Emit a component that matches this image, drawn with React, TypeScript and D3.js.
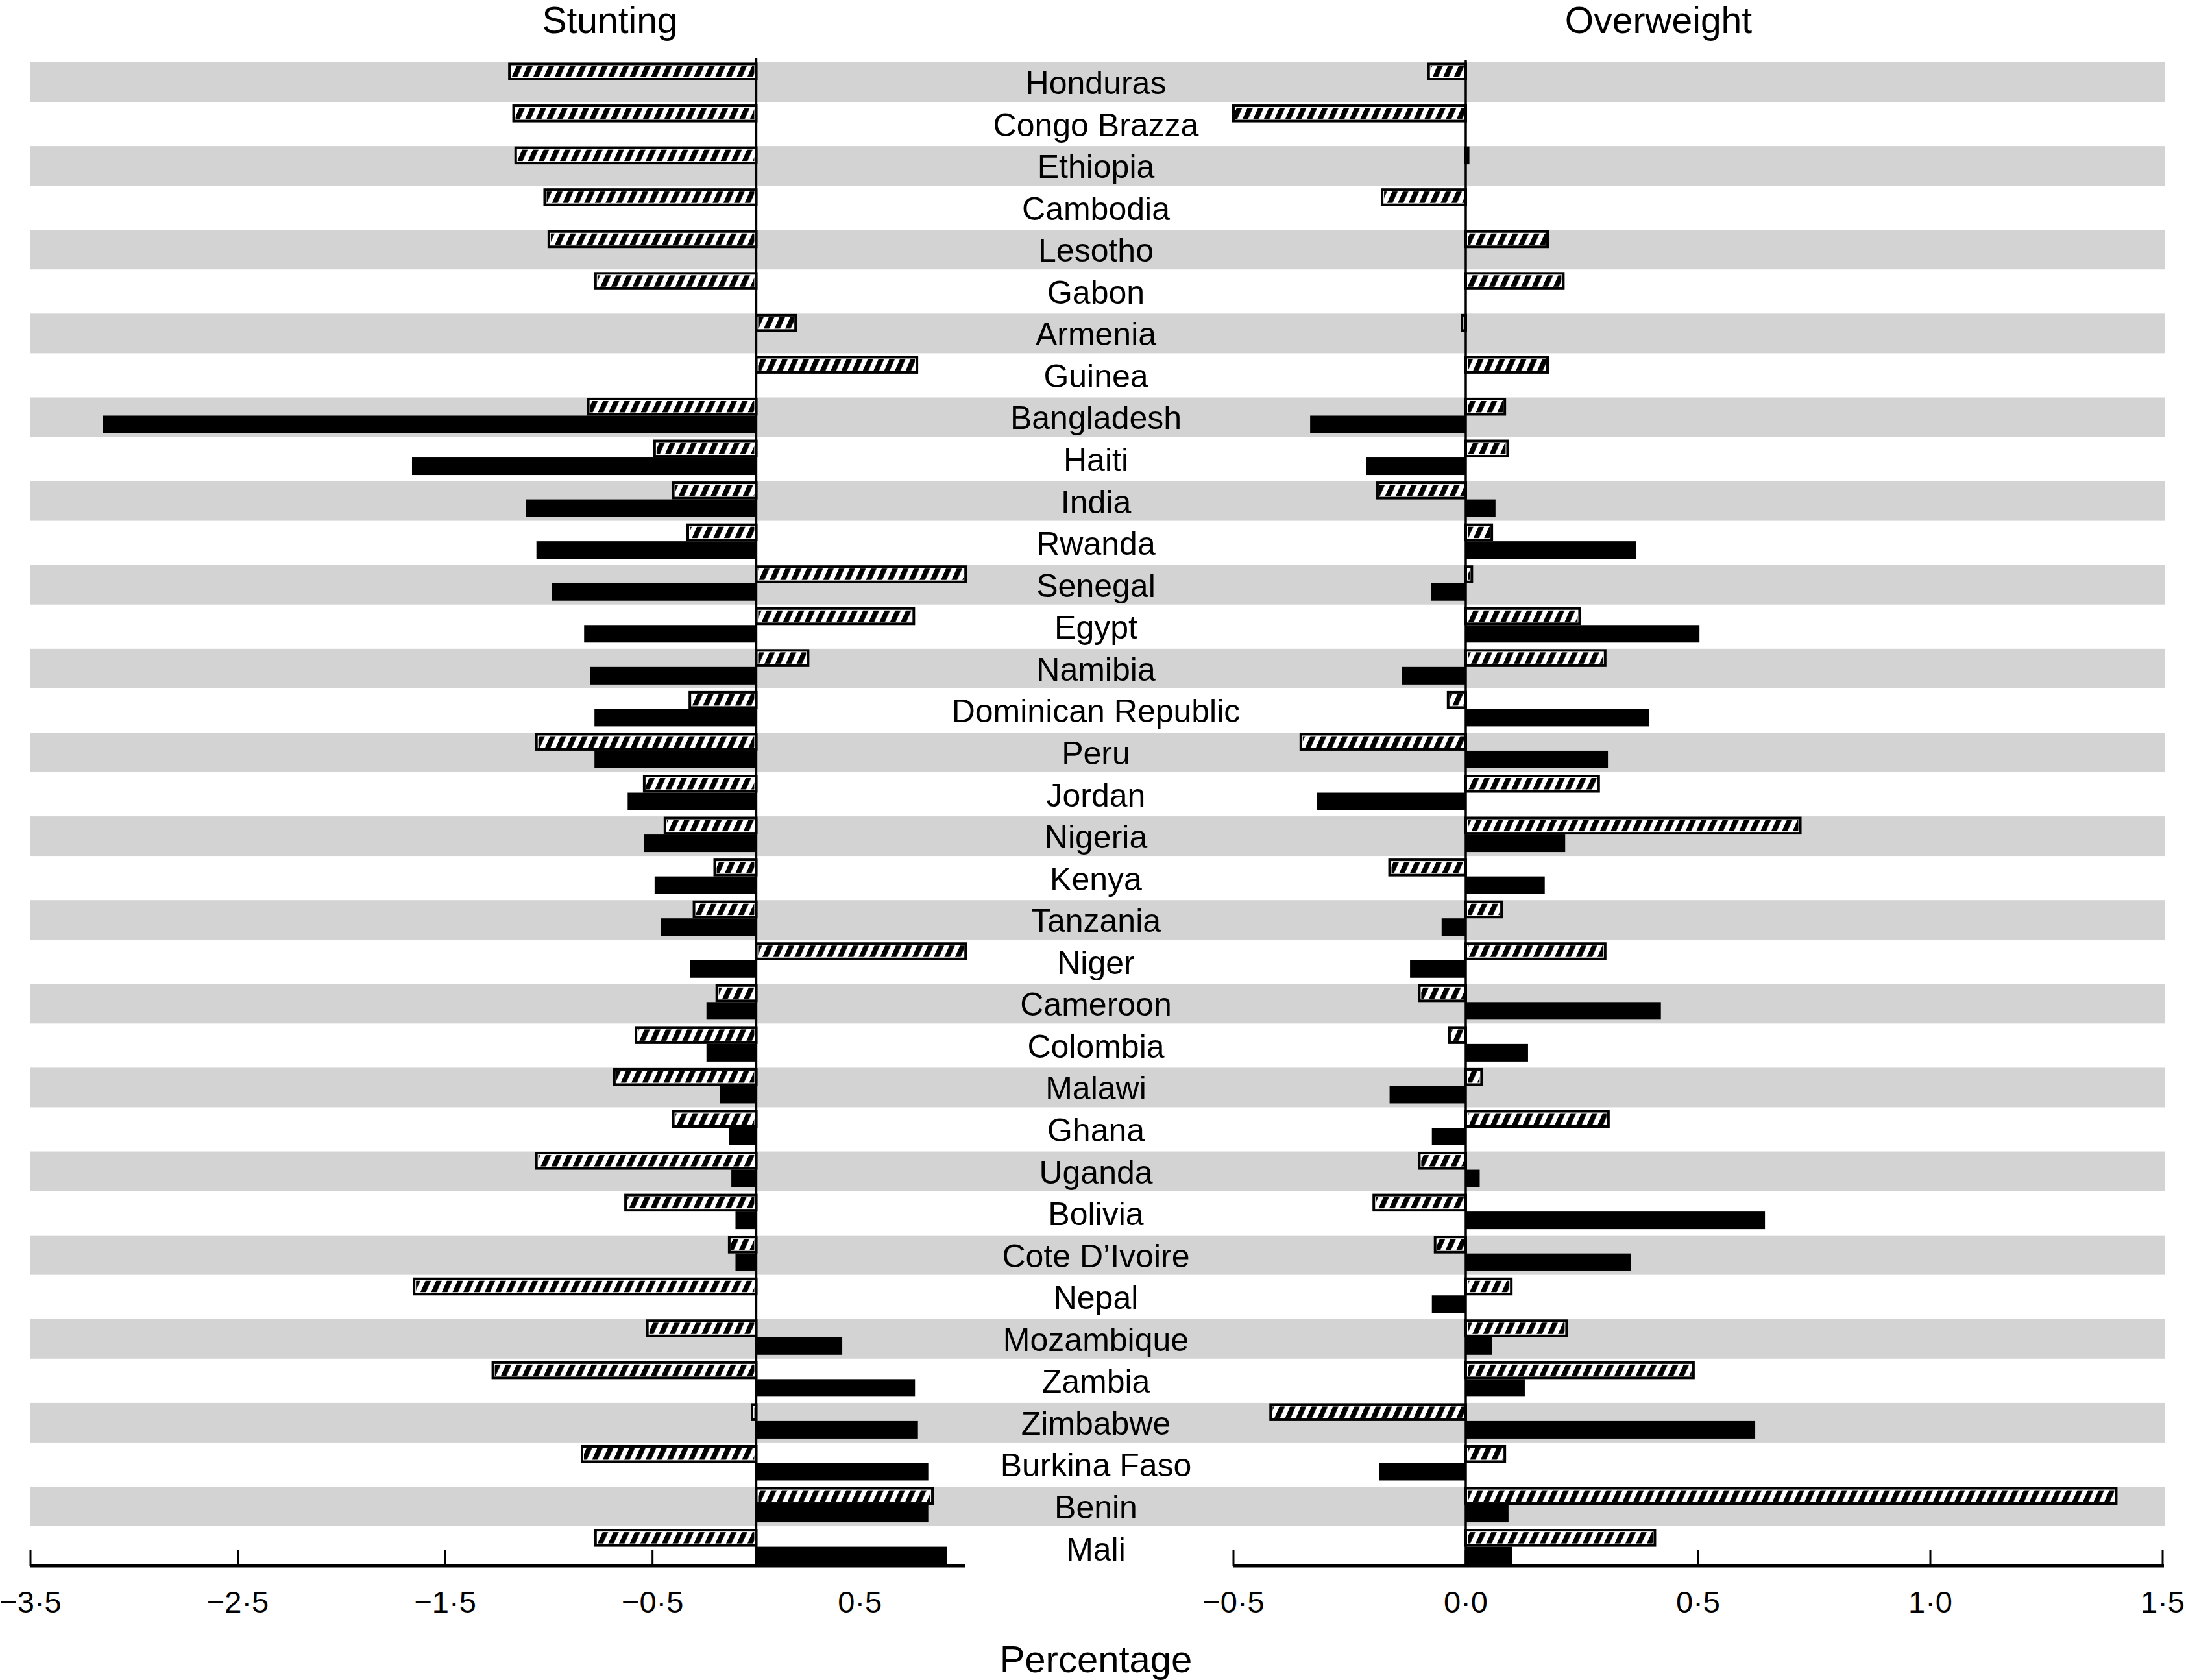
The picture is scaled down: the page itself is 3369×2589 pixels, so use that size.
import React from 'react';
import * as d3 from 'd3';

const countries = [
  'Honduras', 'Congo Brazza', 'Ethiopia', 'Cambodia', 'Lesotho', 'Gabon', 'Armenia', 'Guinea',
  'Bangladesh', 'Haiti', 'India', 'Rwanda', 'Senegal', 'Egypt', 'Namibia', 'Dominican Republic',
  'Peru', 'Jordan', 'Nigeria', 'Kenya', 'Tanzania', 'Niger', 'Cameroon', 'Colombia', 'Malawi',
  'Ghana', 'Uganda', 'Bolivia', 'Cote D\u2019Ivoire', 'Nepal', 'Mozambique', 'Zambia', 'Zimbabwe',
  'Burkina Faso', 'Benin', 'Mali',
];

// Stunting panel: hatched series and solid series
const stuntingHatched = [
  -1.19, -1.17, -1.16, -1.02, -1.0, -0.775, 0.19, 0.775,
  -0.81, -0.49, -0.4, -0.33, 1.01, 0.76, 0.25, -0.32,
  -1.06, -0.54, -0.44, -0.2, -0.3, 1.01, -0.19, -0.58, -0.684,
  -0.4, -1.06, -0.63, -0.13, -1.65, -0.525, -1.27, -0.02,
  -0.84, 0.85, -0.775,
];
const stuntingSolid: (number | null)[] = [
  null, null, null, null, null, null, null, null,
  -3.15, -1.66, -1.11, -1.06, -0.984, -0.83, -0.8, -0.78,
  -0.78, -0.62, -0.54, -0.49, -0.46, -0.32, -0.24, -0.24, -0.175,
  -0.13, -0.12, -0.1, -0.1, 0, 0.415, 0.766, 0.78,
  0.83, 0.83, 0.92,
];

// Overweight panel
const overweightHatched = [
  -0.08, -0.5, 0.005, -0.18, 0.176, 0.21, -0.008, 0.176,
  0.084, 0.09, -0.19, 0.056, 0.013, 0.245, 0.3, -0.038,
  -0.355, 0.286, 0.72, -0.164, 0.077, 0.3, -0.1, -0.035, 0.034,
  0.307, -0.1, -0.198, -0.066, 0.098, 0.217, 0.49, -0.42,
  0.084, 1.4, 0.407,
];
const overweightSolid: (number | null)[] = [
  null, null, null, null, null, null, null, null,
  -0.335, -0.215, 0.064, 0.367, -0.074, 0.503, -0.138, 0.395,
  0.306, -0.32, 0.214, 0.17, -0.052, -0.12, 0.42, 0.134, -0.164,
  -0.073, 0.03, 0.644, 0.355, -0.073, 0.057, 0.127, 0.623,
  -0.187, 0.092, 0.1,
];

const stuntingTicks = [-3.5, -2.5, -1.5, -0.5, 0.5];
const overweightTicks = [-0.5, 0.0, 0.5, 1.0, 1.5];

const panelTitles = ['Stunting', 'Overweight'];
const xAxisTitle = 'Percentage';

const W = 3369;
const H = 2589;
const FONT = '"Liberation Sans", Arial, Helvetica, sans-serif';

const fmt = (v: number) => d3.format('.1f')(v).replace('-', '\u2212').replace('.', '\u00b7');

export default function App() {
  const rowTop0 = 95;
  const pitch = 64.56;
  const y = d3.scaleBand<string>().domain(countries).range([rowTop0, rowTop0 + pitch * countries.length]).padding(0);

  const xL = d3.scaleLinear().domain([-3.5, 1.0]).range([47, 1485]);
  const xR = d3.scaleLinear().domain([-0.5, 1.5]).range([1901, 3333]);

  const bandLeft = 46;
  const bandRight = 3337;
  const axisY = 2413;
  const labelX = 1689;

  const hatchY = (c: string) => (y(c) as number) + 3.5;
  const hatchH = 23.5;
  const solidY = (c: string) => (y(c) as number) + 29;
  const solidH = 27;

  const hatchedBar = (x: d3.ScaleLinear<number, number>, v: number, c: string, key: string) => {
    const x0 = x(Math.min(0, v));
    const x1 = x(Math.max(0, v));
    const w = Math.max(x1 - x0, 0.5);
    const yy = hatchY(c);
    return (
      <g key={key}>
        <rect x={x0} y={yy} width={w} height={hatchH} fill="#fff" stroke="#000" strokeWidth={4} />
        {w > 6 && (
          <rect x={x0 + 3} y={yy + 3} width={w - 6} height={hatchH - 6} fill="url(#hatch)" />
        )}
      </g>
    );
  };

  const solidBar = (x: d3.ScaleLinear<number, number>, v: number | null, c: string, key: string) => {
    if (v === null) return null;
    const x0 = x(Math.min(0, v));
    const x1 = x(Math.max(0, v));
    return <rect key={key} x={x0} y={solidY(c)} width={Math.max(x1 - x0, 0)} height={solidH} fill="#000" />;
  };

  return (
    <div style={{ position: 'absolute', left: 0, top: 0 }}>
      <svg width={W} height={H} viewBox={`0 0 ${W} ${H}`} style={{ display: 'block', background: '#fff' }}>
        <defs>
          <pattern id="hatch" patternUnits="userSpaceOnUse" width={16.5} height={40} patternTransform="skewX(-24)">
            <rect x={0} y={0} width={16.5} height={40} fill="#fff" />
            <rect x={0} y={0} width={8.5} height={40} fill="#000" />
          </pattern>
        </defs>
        <rect x={0} y={0} width={W} height={H} fill="#fff" />

        {/* alternating bands */}
        {countries.map((c, i) =>
          i % 2 === 0 ? (
            <rect key={'band' + c} x={bandLeft} y={(y(c) as number) + 1} width={bandRight - bandLeft} height={61} fill="#d3d3d3" />
          ) : null
        )}

        {/* titles */}
        <text x={940} y={51} fontFamily={FONT} fontSize={57} textAnchor="middle" fill="#000">{panelTitles[0]}</text>
        <text x={2556} y={51} fontFamily={FONT} fontSize={57} textAnchor="middle" fill="#000">{panelTitles[1]}</text>

        {/* country labels */}
        {countries.map((c) => (
          <text key={'lab' + c} x={labelX} y={(y(c) as number) + 50} fontFamily={FONT} fontSize={50} textAnchor="middle" fill="#000">
            {c}
          </text>
        ))}

        {/* bars */}
        {countries.map((c, i) => solidBar(xL, stuntingSolid[i], c, 'ss' + i))}
        {countries.map((c, i) => hatchedBar(xL, stuntingHatched[i], c, 'sh' + i))}
        {countries.map((c, i) => solidBar(xR, overweightSolid[i], c, 'os' + i))}
        {countries.map((c, i) => hatchedBar(xR, overweightHatched[i], c, 'oh' + i))}

        {/* zero lines */}
        <line x1={xL(0)} x2={xL(0)} y1={90} y2={axisY} stroke="#000" strokeWidth={3.5} />
        <line x1={xR(0)} x2={xR(0)} y1={92} y2={axisY} stroke="#000" strokeWidth={3.5} />

        {/* axes */}
        <line x1={xL(-3.5)} x2={xL(1.0) + 2} y1={axisY} y2={axisY} stroke="#000" strokeWidth={5} />
        {stuntingTicks.map((t) => (
          <g key={'lt' + t}>
            <line x1={xL(t)} x2={xL(t)} y1={axisY - 24} y2={axisY} stroke="#000" strokeWidth={3} />
            <text x={xL(t)} y={2485} fontFamily={FONT} fontSize={47} textAnchor="middle" fill="#000">{fmt(t)}</text>
          </g>
        ))}
        <line x1={xR(-0.5)} x2={xR(1.5) + 2} y1={axisY} y2={axisY} stroke="#000" strokeWidth={5} />
        {overweightTicks.map((t) => (
          <g key={'rt' + t}>
            <line x1={xR(t)} x2={xR(t)} y1={axisY - 24} y2={axisY} stroke="#000" strokeWidth={3} />
            <text x={xR(t)} y={2485} fontFamily={FONT} fontSize={47} textAnchor="middle" fill="#000">{fmt(t)}</text>
          </g>
        ))}

        <text x={labelX} y={2577} fontFamily={FONT} fontSize={58} textAnchor="middle" fill="#000">{xAxisTitle}</text>
      </svg>
    </div>
  );
}
